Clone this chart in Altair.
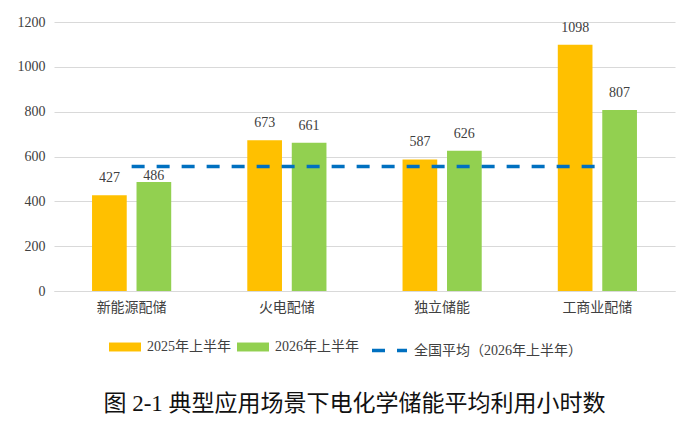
import altair as alt
import pandas as pd

# values
categories = ["新能源配储", "火电配储", "独立储能", "工商业配储"]
series_names = ["2025年上半年", "2026年上半年"]
hours_2025 = [427, 673, 587, 1098]
hours_2026 = [486, 661, 626, 807]
avg_name = "全国平均（2026年上半年）"
avg_2026 = 555

bar_df = pd.DataFrame({
    "category": categories * 2,
    "series": [series_names[0]] * 4 + [series_names[1]] * 4,
    "hours": hours_2025 + hours_2026,
})
avg_df = pd.DataFrame({
    "category": categories,
    "series": [avg_name] * 4,
    "hours": [avg_2026] * 4,
})

num_font = "'Liberation Serif', 'Noto Sans CJK SC'"
cjk_font = "'Noto Sans CJK SC'"
txt_color = "#404040"

x = alt.X("category:N", sort=categories, title=None,
          scale=alt.Scale(paddingInner=0.49, paddingOuter=0.245),
          axis=alt.Axis(labelAngle=0, labelFont=cjk_font, labelFontSize=14,
                        labelColor=txt_color, labelPadding=9, ticks=False,
                        domainColor="#d9d9d9", grid=False))
x_off = alt.XOffset("series:N", sort=series_names,
                    scale=alt.Scale(paddingInner=0.22, paddingOuter=0))
y = alt.Y("hours:Q", title=None,
          scale=alt.Scale(domain=[0, 1200], nice=False),
          axis=alt.Axis(values=[0, 200, 400, 600, 800, 1000, 1200], format="d",
                        labelFont=num_font, labelFontSize=14,
                        labelColor=txt_color, labelPadding=9, ticks=False,
                        domain=False, gridColor="#d9d9d9"))

bars = alt.Chart(bar_df).mark_bar().encode(
    x=x, xOffset=x_off, y=y,
    color=alt.Color("series:N", sort=series_names,
                    scale=alt.Scale(domain=series_names, range=["#FFC000", "#92D050"]),
                    legend=alt.Legend(title=None, orient="none", direction="horizontal",
                                      legendX=55, legendY=309, padding=0,
                                      symbolType="M-1,-0.28H1V0.28H-1Z", symbolSize=1024,
                                      symbolStrokeWidth=0, symbolOpacity=1,
                                      labelOffset=6, columnPadding=6, labelLimit=300,
                                      labelFont=num_font, labelFontSize=14,
                                      labelColor=txt_color)),
)

# labels just under the average line sit closer to their bar, as in the source
near_line = f"datum.hours < {avg_2026} && datum.hours > {avg_2026} - 90"
labels = alt.Chart(bar_df).mark_text(
    baseline="alphabetic", dy=-13, font=num_font, fontSize=14, color=txt_color
).encode(x=x, xOffset=x_off, y=y, text="hours:Q").transform_filter(f"!({near_line})")
labels_near = alt.Chart(bar_df).mark_text(
    baseline="alphabetic", dy=-2, font=num_font, fontSize=14, color=txt_color
).encode(x=x, xOffset=x_off, y=y, text="hours:Q").transform_filter(near_line)

avg_line = alt.Chart(avg_df).mark_line(color="#0070C0", strokeWidth=3.5).encode(
    x=x, y=y,
    strokeDash=alt.StrokeDash("series:N",
                              scale=alt.Scale(domain=[avg_name], range=[[13, 12]]),
                              legend=alt.Legend(title=None, orient="none",
                                                legendX=316, legendY=309, padding=0,
                                                symbolType="stroke", symbolSize=1225,
                                                symbolStrokeColor="#0070C0",
                                                symbolStrokeWidth=3.5, labelOffset=5,
                                                labelLimit=300,
                                                labelFont=num_font, labelFontSize=14,
                                                labelColor=txt_color)),
)

chart = alt.layer(bars, avg_line, labels, labels_near).resolve_scale(
    color="independent", strokeDash="independent"
).properties(
    width=621, height=269,
    autosize=alt.AutoSizeParams(type="none"),
    padding={"left": 46, "top": 14, "right": 9, "bottom": 124},
    title=alt.TitleParams("图 2-1 典型应用场景下电化学储能平均利用小时数",
                          orient="bottom", anchor="middle",
                          offset=35, dx=-10, font=num_font, fontSize=23,
                          fontWeight="normal", color="#111111"),
).configure_view(stroke=None)

chart.save("out.html", embed_options={"renderer": "svg", "actions": False})
